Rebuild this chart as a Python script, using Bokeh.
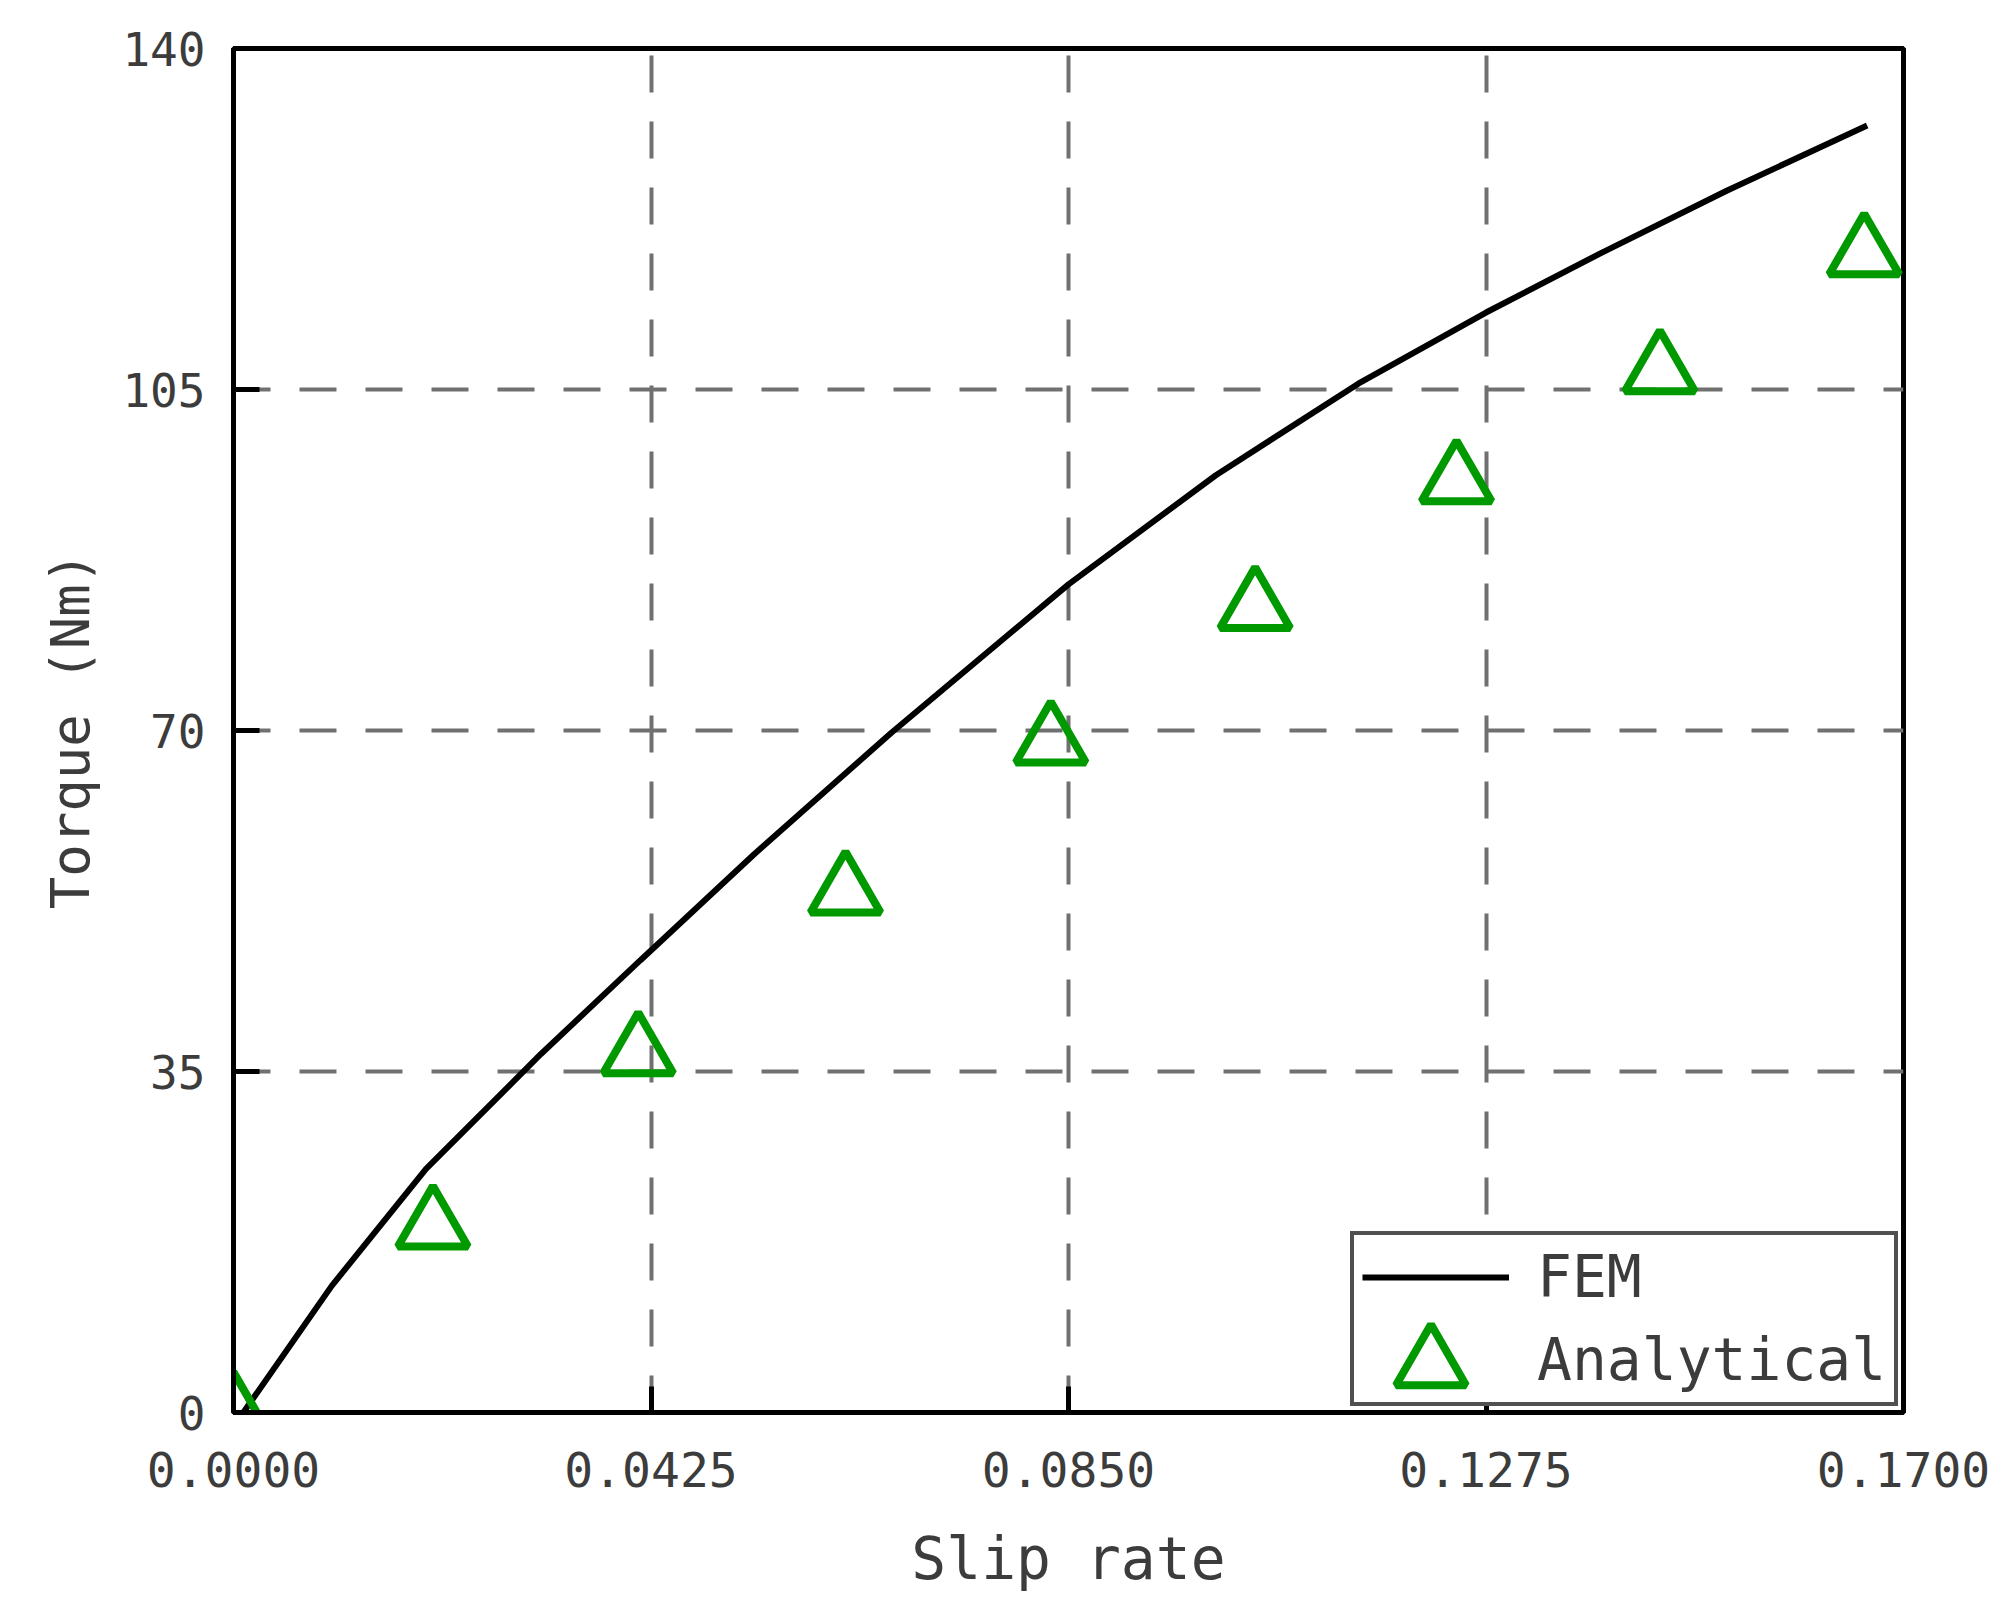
from bokeh.plotting import figure
from bokeh.models import Range1d, FixedTicker, Legend, LegendItem, NumeralTickFormatter
from bokeh.embed import file_html
from bokeh.resources import INLINE

# ---- data ----
fem_slip = [0.001, 0.0100, 0.0196, 0.0313, 0.0414, 0.0530, 0.0670, 0.0850, 0.1000, 0.1145, 0.1275, 0.1392, 0.1520, 0.1663]
fem_torque = [0.0, 13.0, 25.0, 36.8, 46.4, 57.3, 69.8, 85.0, 96.2, 105.6, 112.9, 119.0, 125.4, 132.1]

ana_slip = [0.0, 0.0203, 0.0412, 0.0623, 0.0832, 0.1040, 0.1245, 0.1452, 0.1660]
ana_torque = [0.0, 19.1, 36.9, 53.4, 68.8, 82.6, 95.6, 106.9, 118.9]

x_ticks = [0.0, 0.0425, 0.085, 0.1275, 0.17]
y_ticks = [0, 35, 70, 105, 140]

GREEN = "#009a00"
TXT = "#3c3c3c"
MONO = "DejaVu Sans Mono"

p = figure(width=1990, height=1600,
           x_range=Range1d(0, 0.17), y_range=Range1d(0, 140),
           output_backend="svg", toolbar_location=None,
           min_border_left=233, min_border_right=87,
           min_border_top=48, min_border_bottom=188,
           background_fill_color="white", border_fill_color="white")

p.outline_line_color = "black"
p.outline_line_width = 5
p.outline_line_alpha = 1

for ax in (p.xaxis[0], p.yaxis[0]):
    ax.axis_line_width = 5
    ax.axis_line_color = "black"
    ax.major_tick_line_width = 5
    ax.major_tick_line_color = "black"
    ax.major_tick_in = 26
    ax.major_tick_out = 0
    ax.minor_tick_line_color = None
    ax.major_label_text_color = TXT
    ax.major_label_text_font = MONO
    ax.axis_label_text_color = TXT
    ax.axis_label_text_font = MONO
    ax.axis_label_text_font_style = "normal"

p.xaxis.ticker = FixedTicker(ticks=x_ticks)
p.yaxis.ticker = FixedTicker(ticks=y_ticks)
p.xaxis.formatter = NumeralTickFormatter(format="0.0000")
p.xaxis.major_label_text_font_size = "48px"
p.yaxis.major_label_text_font_size = "46px"
p.xaxis.major_label_standoff = 39
p.yaxis.major_label_standoff = 28

p.xaxis.axis_label = "Slip rate"
p.yaxis.axis_label = "Torque (Nm)"
p.xaxis.axis_label_text_font_size = "58px"
p.yaxis.axis_label_text_font_size = "54px"
p.xaxis.axis_label_standoff = 35
p.yaxis.axis_label_standoff = 17

p.xgrid.ticker = FixedTicker(ticks=x_ticks)
p.ygrid.ticker = FixedTicker(ticks=y_ticks)
for g in (p.xgrid[0], p.ygrid[0]):
    g.grid_line_color = "#707070"
    g.grid_line_width = 4
    g.grid_line_dash = "37 29"

fem_r = p.line(fem_slip, fem_torque, line_color="black", line_width=6)
tri_r = p.scatter(ana_slip, ana_torque, marker="triangle", size=70,
                  line_color=GREEN, line_width=8, fill_alpha=0)
ghost = p.scatter(x=[], y=[], marker="triangle", size=1, line_alpha=0, fill_alpha=0)

leg1 = Legend(items=[LegendItem(label="FEM", renderers=[fem_r]),
                     LegendItem(label="Analytical", renderers=[ghost])],
              location=(1117, 6),
              glyph_width=147, glyph_height=66, spacing=15, padding=8,
              label_standoff=28,
              label_text_font=MONO, label_text_font_size="58px",
              label_text_color=TXT,
              border_line_color="#505050", border_line_width=4, border_line_alpha=1,
              background_fill_color="white", background_fill_alpha=1)
p.add_layout(leg1)

leg2 = Legend(items=[LegendItem(label=" ", renderers=[tri_r])],
              location=(1110, -40),
              glyph_width=175, glyph_height=175, spacing=0, padding=0,
              label_standoff=0, label_text_font_size="1px",
              border_line_alpha=0, background_fill_alpha=0)
p.add_layout(leg2)

open("out.html", "w").write(file_html(p, INLINE))
